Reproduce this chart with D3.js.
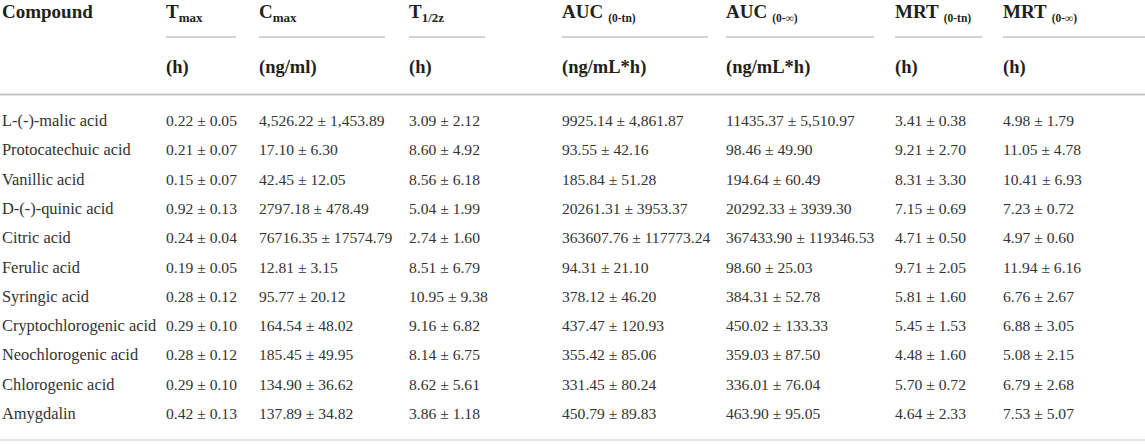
<!DOCTYPE html>
<html>
<head>
<meta charset="utf-8">
<script src="https://cdn.jsdelivr.net/npm/d3@7"></script>
<style>
  html, body { margin: 0; padding: 0; background: #fff; }
  svg { display: block; }
</style>
</head>
<body>
<svg id="chart" width="1145" height="444"></svg>
<script>
// ---- Data ----
const compounds = ["L-(-)-malic acid", "Protocatechuic acid", "Vanillic acid", "D-(-)-quinic acid",
  "Citric acid", "Ferulic acid", "Syringic acid", "Cryptochlorogenic acid", "Neochlorogenic acid",
  "Chlorogenic acid", "Amygdalin"];
const tmax = ["0.22 ± 0.05", "0.21 ± 0.07", "0.15 ± 0.07", "0.92 ± 0.13", "0.24 ± 0.04", "0.19 ± 0.05",
  "0.28 ± 0.12", "0.29 ± 0.10", "0.28 ± 0.12", "0.29 ± 0.10", "0.42 ± 0.13"];
const cmax = ["4,526.22 ± 1,453.89", "17.10 ± 6.30", "42.45 ± 12.05", "2797.18 ± 478.49", "76716.35 ± 17574.79",
  "12.81 ± 3.15", "95.77 ± 20.12", "164.54 ± 48.02", "185.45 ± 49.95", "134.90 ± 36.62", "137.89 ± 34.82"];
const t12z = ["3.09 ± 2.12", "8.60 ± 4.92", "8.56 ± 6.18", "5.04 ± 1.99", "2.74 ± 1.60", "8.51 ± 6.79",
  "10.95 ± 9.38", "9.16 ± 6.82", "8.14 ± 6.75", "8.62 ± 5.61", "3.86 ± 1.18"];
const aucTn = ["9925.14 ± 4,861.87", "93.55 ± 42.16", "185.84 ± 51.28", "20261.31 ± 3953.37", "363607.76 ± 117773.24",
  "94.31 ± 21.10", "378.12 ± 46.20", "437.47 ± 120.93", "355.42 ± 85.06", "331.45 ± 80.24", "450.79 ± 89.83"];
const aucInf = ["11435.37 ± 5,510.97", "98.46 ± 49.90", "194.64 ± 60.49", "20292.33 ± 3939.30", "367433.90 ± 119346.53",
  "98.60 ± 25.03", "384.31 ± 52.78", "450.02 ± 133.33", "359.03 ± 87.50", "336.01 ± 76.04", "463.90 ± 95.05"];
const mrtTn = ["3.41 ± 0.38", "9.21 ± 2.70", "8.31 ± 3.30", "7.15 ± 0.69", "4.71 ± 0.50", "9.71 ± 2.05",
  "5.81 ± 1.60", "5.45 ± 1.53", "4.48 ± 1.60", "5.70 ± 0.72", "4.64 ± 2.33"];
const mrtInf = ["4.98 ± 1.79", "11.05 ± 4.78", "10.41 ± 6.93", "7.23 ± 0.72", "4.97 ± 0.60", "11.94 ± 6.16",
  "6.76 ± 2.67", "6.88 ± 3.05", "5.08 ± 2.15", "6.79 ± 2.68", "7.53 ± 5.07"];

// header labels: main text, subscript, unit
const headerMain = ["Compound", "T", "C", "T", "AUC", "AUC", "MRT", "MRT"];
const headerSub  = ["", "max", "max", "1/2z", "(0-tn)", "(0-∞)", "(0-tn)", "(0-∞)"];
const headerUnit = ["", "(h)", "(ng/ml)", "(h)", "(ng/mL*h)", "(ng/mL*h)", "(h)", "(h)"];

const columns = [compounds, tmax, cmax, t12z, aucTn, aucInf, mrtTn, mrtInf];
const colKeys = ["compound", "tmax", "cmax", "t12z", "aucTn", "aucInf", "mrtTn", "mrtInf"];

// ---- Layout ----
const svg = d3.select("#chart");
const W = 1145;
const colStarts = [2, 166, 259, 409, 562, 726, 895, 1003];
const colEnds   = [140, 236, 385, 485, 708, 874, 982, 1145];

const x = d3.scaleOrdinal().domain(colKeys).range(colStarts);
const xEnd = d3.scaleOrdinal().domain(colKeys).range(colEnds);
const y = d3.scalePoint().domain(compounds).range([126, 419]);

const serif = "'Liberation Serif', 'Times New Roman', serif";

// header row 1
const h1 = svg.append("g").attr("class", "header1");
colKeys.forEach((k, i) => {
  const t = h1.append("text")
    .attr("x", x(k)).attr("y", 18)
    .attr("font-family", serif).attr("font-weight", "bold")
    .attr("font-size", 19).attr("fill", "#231f20");
  t.append("tspan").text(headerMain[i]);
  if (headerSub[i]) {
    t.append("tspan")
      .attr("font-size", i >= 4 ? 11.5 : 13)
      .attr("dx", i >= 4 ? 5 : 0)
      .attr("dy", 4)
      .text(headerSub[i]);
  }
});

// underlines under spanning headers
svg.append("g").selectAll("line")
  .data(colKeys.slice(1))
  .join("line")
  .attr("x1", d => x(d)).attr("x2", d => xEnd(d))
  .attr("y1", 37).attr("y2", 37)
  .attr("stroke", "#c4c4c4").attr("stroke-width", 1.5);

// header row 2 (units)
svg.append("g").selectAll("text")
  .data(colKeys.slice(1))
  .join("text")
  .attr("x", d => x(d)).attr("y", 73)
  .attr("font-family", serif).attr("font-weight", "bold")
  .attr("font-size", 18.5).attr("fill", "#231f20")
  .text((d, i) => headerUnit[i + 1]);

// thick rule
svg.append("line").attr("x1", 0).attr("x2", W).attr("y1", 94.5).attr("y2", 94.5)
  .attr("stroke", "#c8c8c8").attr("stroke-width", 2);

// body rows
const body = svg.append("g").attr("class", "body");
colKeys.forEach((k, ci) => {
  body.append("g").selectAll("text")
    .data(columns[ci].map((v, ri) => ({ v, c: compounds[ri] })))
    .join("text")
    .attr("x", x(k))
    .attr("y", d => y(d.c))
    .attr("font-family", serif)
    .attr("font-size", ci === 0 ? 16.4 : 15.6)
    .attr("fill", "#333")
    .text(d => d.v);
});

// bottom rule
svg.append("line").attr("x1", 0).attr("x2", W).attr("y1", 440).attr("y2", 440)
  .attr("stroke", "#e4e4e4").attr("stroke-width", 2);
</script>
</body>
</html>
